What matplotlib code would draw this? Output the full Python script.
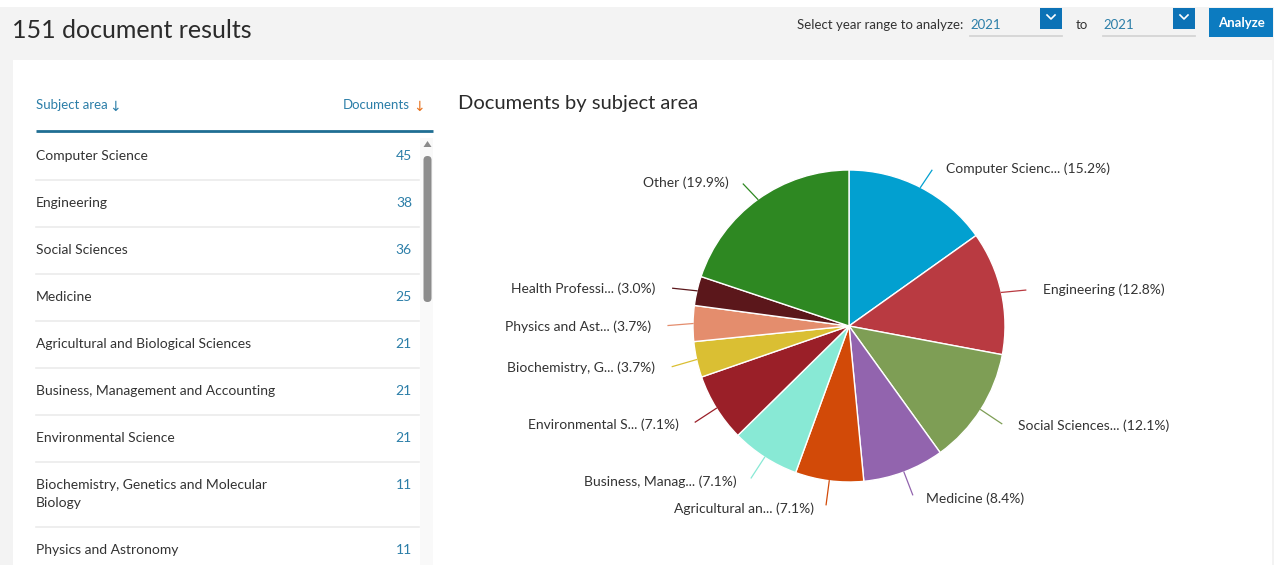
import textwrap
import numpy as np
import matplotlib; matplotlib.use("Agg")
import matplotlib.pyplot as plt
from matplotlib.patches import Rectangle, FancyBboxPatch, Polygon

# ---- data -------------------------------------------------------------------
total_results = 151
year_from, year_to = "2021", "2021"
subjects = ["Computer Science", "Engineering", "Social Sciences", "Medicine",
            "Agricultural and Biological Sciences", "Business, Management and Accounting",
            "Environmental Science", "Biochemistry, Genetics and Molecular Biology",
            "Physics and Astronomy", "Health Professions"]
documents = [45, 38, 36, 25, 21, 21, 21, 11, 11, 9]
other_label = "Other"
other_documents = 59
slice_colors = ["#02a0d0", "#b93a41", "#7e9e55", "#9264ae", "#d24a08", "#88e9d5",
                "#9a1f28", "#dabf33", "#e48d6d", "#5b171b", "#2e8822"]

W, H = 1274, 565
plt.rcParams["font.family"] = ["Lato", "DejaVu Sans"]
fig = plt.figure(figsize=(W / 100, H / 100), dpi=100)
fig.patch.set_facecolor("#f3f3f3")

ui = fig.add_axes([0, 0, 1, 1])
ui.set_xlim(0, W); ui.set_ylim(H, 0); ui.axis("off")

TEAL = "#2c7ea8"
DARK = "#333333"

# page chrome
ui.add_patch(Rectangle((0, 0), W, 7, color="white", lw=0))
ui.add_patch(Rectangle((13, 60), W - 15, H - 60, color="white", lw=0))
ui.add_patch(Rectangle((420, 138), 13, H - 138, color="#f9f9f9", lw=0))
ui.text(12, 30, f"{total_results} document results", fontsize=18, color="#2b2b2b",
        va="center", ha="left")

# year range controls
ui.text(963, 25, "Select year range to analyze:", fontsize=9.5, color=DARK, ha="right", va="center")
for x0, yr in [(970, year_from), (1103, year_to)]:
    ui.text(x0, 25, yr, fontsize=9.5, color=TEAL, ha="left", va="center")
    ui.plot([x0, x0 + 92], [35.5, 35.5], color="#d5d5d5", lw=1.3)
    bx = x0 + 70
    ui.add_patch(Rectangle((bx, 8), 22, 21, color="#0c72b6", lw=0))
    ui.plot([bx + 7, bx + 11, bx + 15], [15, 19, 15], color="white", lw=1.2)
ui.text(1082, 25, "to", fontsize=9.5, color=DARK, ha="center", va="center")
ui.add_patch(Rectangle((1209, 8), 64, 29, color="#0c7bc0", lw=0))
ui.text(1241, 23, "Analyze", fontsize=9.5, color="white", ha="center", va="center",
        fontweight="bold")

# subject table
ui.text(36, 105, "Subject area", fontsize=9.5, color=TEAL, va="center")
ui.text(109, 107, "\u2193", fontsize=10, color=TEAL, va="center", family="DejaVu Sans")
ui.text(410, 105, "Documents", fontsize=9.5, color=TEAL, va="center", ha="right")
ui.text(413, 107, "\u2193", fontsize=10, color="#e8711c", va="center", family="DejaVu Sans")
ui.plot([36, 433], [130.5, 130.5], color="#1f6e93", lw=2, solid_capstyle="butt")

y = 132
for name, n in zip(subjects, documents):
    lines = textwrap.wrap(name, 36)
    if y + 23 > H:
        break
    for k, line in enumerate(lines):
        ui.text(36, y + 24 + 18 * k, line, fontsize=10, color=DARK, va="center")
    ui.text(412, y + 24, str(n), fontsize=10, color=TEAL, va="center", ha="right")
    y += 47 + 18 * (len(lines) - 1)
    ui.plot([36, 419], [y + 0.5, y + 0.5], color="#ebebeb", lw=1.2)

# scrollbar
ui.add_patch(Polygon([[423.5, 147], [431.5, 147], [427.5, 141]], color="#8a8a8a", lw=0))
ui.add_patch(FancyBboxPatch((423.5, 156), 8, 146, boxstyle="round,pad=0,rounding_size=4",
                            color="#8c8c8c", lw=0))

ui.text(458, 103, "Documents by subject area", fontsize=14.5, color="#2b2b2b", va="center")

# pie
R, cx, cy = 156, 849, 326
pax = fig.add_axes([(cx - 2 * R) / W, (H - cy - 2 * R) / H, 4 * R / W, 4 * R / H])

labels = subjects + [other_label]
counts = documents + [other_documents]
total = sum(counts)
wedges, _ = pax.pie(counts, colors=slice_colors, startangle=90, counterclock=False,
                    radius=1, wedgeprops=dict(edgecolor="white", linewidth=1))
pax.set_xlim(-2, 2); pax.set_ylim(-2, 2); pax.axis("off")

for w, lab, n, col in zip(wedges, labels, counts, slice_colors):
    a = np.deg2rad((w.theta1 + w.theta2) / 2)
    c, s = np.cos(a), np.sin(a)
    short = lab[:15] + "..." if len(lab) >= 15 else lab
    pax.plot([c, 1.16 * c], [s, 1.14 * s - 0.015], color=col, lw=0.9, clip_on=False)
    side = 1 if c >= 0 else -1
    pax.text(1.2 * c + side * 0.07, 1.16 * s - 0.02, f"{short} ({100 * n / total:.1f}%)",
             fontsize=10, color=DARK, ha="left" if side > 0 else "right", va="center",
             clip_on=False)

fig.savefig("out.png", dpi=100, facecolor=fig.get_facecolor())
